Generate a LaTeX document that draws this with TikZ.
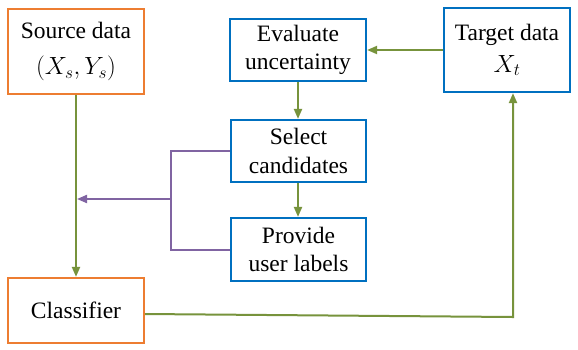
\documentclass[tikz,border=0pt]{standalone}
\usepackage{fontspec}
\setmainfont{Liberation Serif}
\usetikzlibrary{arrows.meta}
\definecolor{corange}{HTML}{ED7D31}
\definecolor{cblue}{HTML}{0070C0}
\definecolor{cgreen}{HTML}{77933C}
\definecolor{cpurple}{HTML}{8064A2}
\tikzset{
  box/.style={draw, line width=2.2pt, align=center, inner sep=0pt,
    font=\fontsize{23.5}{28.5}\selectfont},
  obox/.style={box, draw=corange},
  bbox/.style={box, draw=cblue},
  garrow/.style={draw=cgreen, line width=2pt, -{Triangle[length=10pt,width=8pt]}},
  parrow/.style={draw=cpurple, line width=2pt, -{Triangle[length=10pt,width=8pt]}},
  pline/.style={draw=cpurple, line width=2pt},
}
\begin{document}
\begin{tikzpicture}[x=1pt,y=-1pt]
\useasboundingbox (0,0) rectangle (578,349);
\node[obox, minimum width=136pt, minimum height=85pt] (src) at (76,51.5) {Source data\\[7pt]$(X_s,Y_s)$};
\node[bbox, minimum width=136pt, minimum height=62pt] (eval) at (298,50) {Evaluate\\uncertainty};
\node[bbox, minimum width=126pt, minimum height=84pt] (tgt) at (507,50) {Target data\\[3pt]$X_t$};
\node[bbox, minimum width=135pt, minimum height=62pt] (sel) at (298.5,151) {Select\\candidates};
\node[bbox, minimum width=135pt, minimum height=63pt] (prov) at (298.5,249.5) {Provide\\user labels};
\node[obox, minimum width=136pt, minimum height=65pt] (cls) at (76,310.5) {Classifier};

\draw[garrow] (src.south) -- (cls.north);
\draw[garrow] (eval.south -| 298,0) -- (sel.north -| 298,0);
\draw[garrow] (sel.south -| 298,0) -- (prov.north -| 298,0);
\draw[garrow] (tgt.west) -- (eval.east);
\coordinate (corner) at (513,317);
\draw[garrow] (cls.east |- 0,314) -- (corner) -- (tgt.south -| corner);

\coordinate (pj) at (171,199);
\coordinate (gj) at (77,199);
\draw[pline] (sel.west) -| (pj) |- (prov.west);
\draw[parrow] (pj) -- (gj);
\end{tikzpicture}
\end{document}
